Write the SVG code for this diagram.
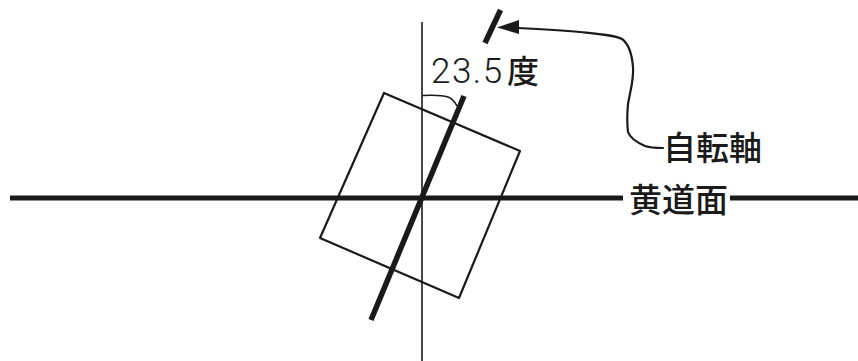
<svg xmlns="http://www.w3.org/2000/svg" width="858" height="361" viewBox="0 0 858 361">
<style>
.thin{stroke:#1a1a1a;fill:none;stroke-width:1.6}
.med{stroke:#1a1a1a;fill:none;stroke-width:2.2;stroke-linejoin:round;stroke-linecap:round}
.thick{stroke:#1a1a1a;fill:none;stroke-width:5}
.lbl{font-family:"Noto Sans CJK JP","Noto Sans",sans-serif;font-size:33px;font-weight:500;fill:#1a1a1a}
.num{font-family:Roboto,"Liberation Sans",sans-serif;font-size:35px;font-weight:300;fill:#1a1a1a;letter-spacing:1.5px}
</style>
<rect width="858" height="361" fill="#fff"/>
<g id="connectors">
<line class="thick" x1="10" y1="198" x2="623" y2="198"/>
<line class="thick" x1="730" y1="198" x2="858" y2="198"/>
<line class="thin" x1="422" y1="22" x2="422" y2="361"/>
<line class="thick" x1="371" y1="320" x2="464" y2="96" style="stroke-width:5.5"/>
<line class="thick" x1="485" y1="43" x2="500.5" y2="10" style="stroke-width:5.5"/>
<path class="med" d="M518,28 C540,29 560,30 580,32 C600,34 614,35 622,39 C629,44 632,55 633,67 C634,80 630,92 628,104 C627,115 627,124 628,132 C630,138 636,142 645,146 C651,148 657,148 663,148"/>
<polygon points="497,27.5 519,20 519,34" fill="#1a1a1a"/>
<path class="thin" d="M422.5,95.5 C432,95 442,95 448,97 C453,99 455,102 457,106"/>
</g>
<g id="earth">
<polygon class="med" points="384,93 520,151 459,298 320,238"/>
</g>
<g id="angle-label">
<text class="num" x="431" y="83">23.5</text>
<text class="lbl" x="507" y="83" style="font-size:32px">度</text>
</g>
<g id="axis-label">
<text class="lbl" x="663" y="160">自転軸</text>
</g>
<g id="ecliptic-label">
<text class="lbl" x="629" y="212">黄道面</text>
</g>
</svg>
